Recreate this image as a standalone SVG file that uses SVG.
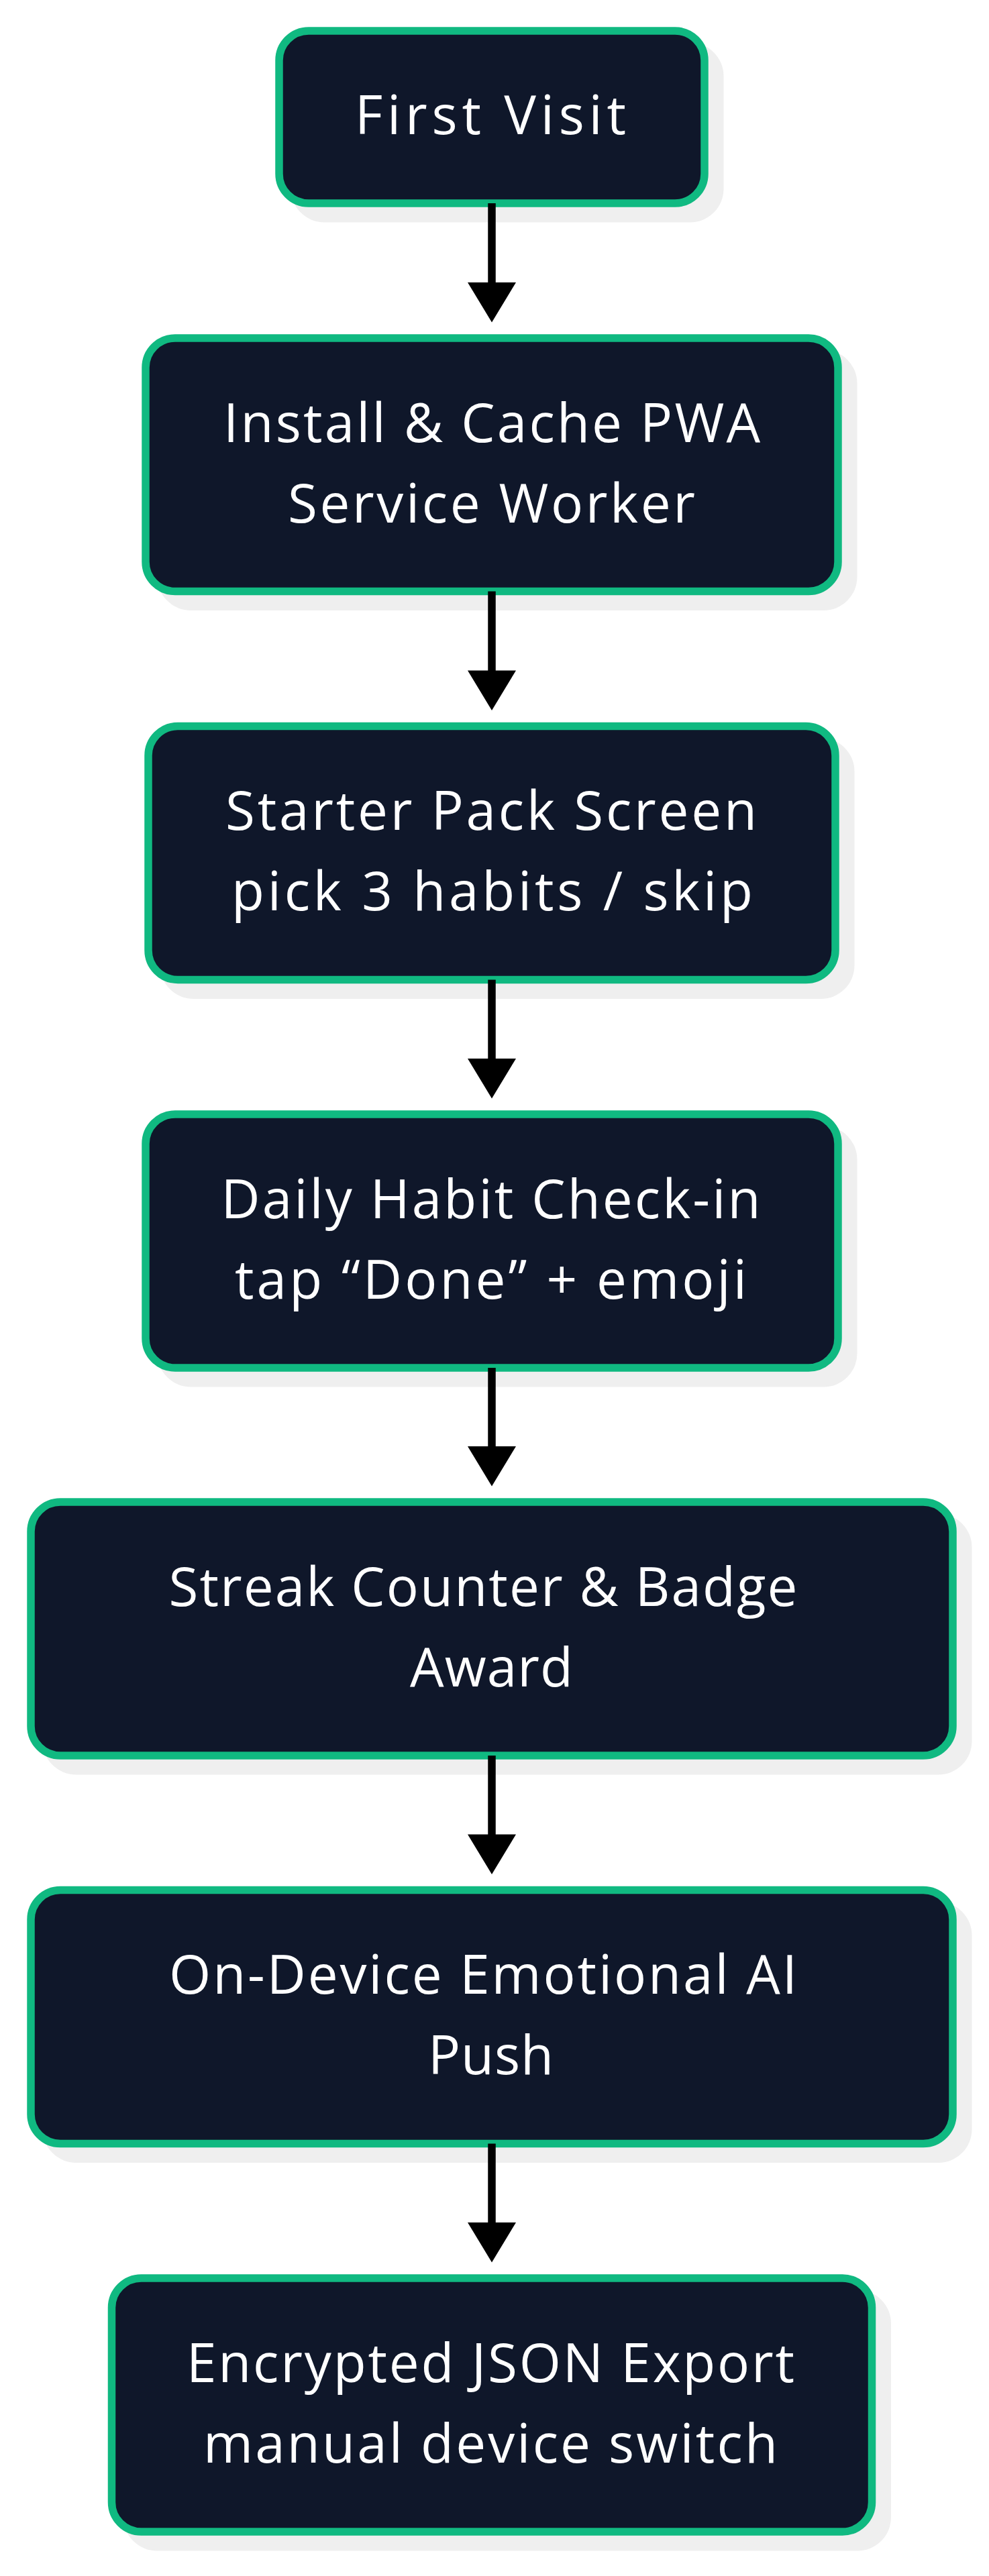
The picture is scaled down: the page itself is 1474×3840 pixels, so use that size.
<svg xmlns="http://www.w3.org/2000/svg" width="1474" height="3840" viewBox="0 0 1474 3840">
<defs>
<style>
.shadow{fill:#efefef;stroke:none}
.box{fill:#0f172a;stroke:#10b981;stroke-width:11.5}
.t{font-family:"Open Sans","Noto Sans","Liberation Sans",sans-serif;font-size:80px;fill:#ffffff;text-anchor:start}
.line{stroke:#000000;stroke-width:11.5;fill:none}
.head{fill:#000000;stroke:none}
</style>
</defs>
<rect width="1474" height="3840" fill="#ffffff"/>
<g id="node1">
<rect class="shadow" x="433.5" y="63.5" width="645" height="268" rx="50"/>
<rect class="box" x="416" y="46" width="634" height="257" rx="44"/>
<text class="t" x="529" y="200" textLength="404" lengthAdjust="spacing">First Visit</text>
</g>
<g id="node2">
<rect class="shadow" x="234.5" y="521.5" width="1043" height="388.5" rx="50"/>
<rect class="box" x="217" y="504" width="1032" height="377.5" rx="44"/>
<text class="t" x="333" y="658.5" textLength="800" lengthAdjust="spacing">Install &amp; Cache PWA</text>
<text class="t" x="429" y="778.5" textLength="607" lengthAdjust="spacing">Service Worker</text>
</g>
<g id="node3">
<rect class="shadow" x="238.5" y="1100" width="1035" height="389" rx="50"/>
<rect class="box" x="221" y="1082.5" width="1024" height="378" rx="44"/>
<text class="t" x="336" y="1237" textLength="792" lengthAdjust="spacing">Starter Pack Screen</text>
<text class="t" x="345" y="1357" textLength="777" lengthAdjust="spacing">pick 3 habits / skip</text>
</g>
<g id="node4">
<rect class="shadow" x="234.5" y="1678.5" width="1043" height="389" rx="50"/>
<rect class="box" x="217" y="1661" width="1032" height="378" rx="44"/>
<text class="t" x="329.5" y="1815.5" textLength="804" lengthAdjust="spacing">Daily Habit Check-in</text>
<text class="t" x="350" y="1935.5" textLength="763" lengthAdjust="spacing">tap “Done” + emoji</text>
</g>
<g id="node5">
<rect class="shadow" x="63.5" y="2256.5" width="1385" height="389" rx="50"/>
<rect class="box" x="46" y="2239" width="1374" height="378" rx="44"/>
<text class="t" x="251.5" y="2393.5" textLength="937" lengthAdjust="spacing">Streak Counter &amp; Badge</text>
<text class="t" x="611" y="2513.5" textLength="243" lengthAdjust="spacing">Award</text>
</g>
<g id="node6">
<rect class="shadow" x="63.5" y="2835" width="1385" height="389" rx="50"/>
<rect class="box" x="46" y="2817.5" width="1374" height="378" rx="44"/>
<text class="t" x="252" y="2972" textLength="936" lengthAdjust="spacing">On-Device Emotional AI</text>
<text class="t" x="638" y="3092" textLength="187" lengthAdjust="spacing">Push</text>
</g>
<g id="node7">
<rect class="shadow" x="184" y="3413.5" width="1144" height="389" rx="50"/>
<rect class="box" x="166.5" y="3396" width="1133" height="378" rx="44"/>
<text class="t" x="278" y="3550.5" textLength="906" lengthAdjust="spacing">Encrypted JSON Export</text>
<text class="t" x="303" y="3670.5" textLength="856" lengthAdjust="spacing">manual device switch</text>
</g>
<g id="connectors">
<line class="line" x1="733" y1="303" x2="733" y2="422"/>
<polygon class="head" points="697,421 769,421 733,480.5"/>
<line class="line" x1="733" y1="881.5" x2="733" y2="1000.5"/>
<polygon class="head" points="697,999.5 769,999.5 733,1059"/>
<line class="line" x1="733" y1="1460.5" x2="733" y2="1579"/>
<polygon class="head" points="697,1578 769,1578 733,1637.5"/>
<line class="line" x1="733" y1="2039" x2="733" y2="2157"/>
<polygon class="head" points="697,2156 769,2156 733,2215.5"/>
<line class="line" x1="733" y1="2617" x2="733" y2="2735.5"/>
<polygon class="head" points="697,2734.5 769,2734.5 733,2794"/>
<line class="line" x1="733" y1="3195.5" x2="733" y2="3314"/>
<polygon class="head" points="697,3313 769,3313 733,3372.5"/>
</g>
</svg>
